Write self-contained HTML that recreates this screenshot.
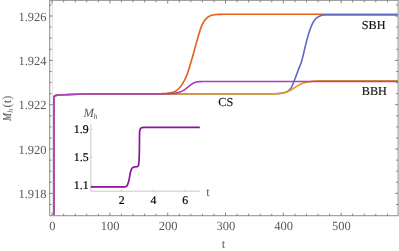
<!DOCTYPE html>
<html><head><meta charset="utf-8"><title>plot</title>
<style>
html,body{margin:0;padding:0;background:#fff;}
svg{display:block;font-family:"Liberation Serif",serif;text-rendering:geometricPrecision;will-change:transform;}
</style></head><body>
<svg width="399" height="251" viewBox="0 0 399 251">
<path d="M52.4,0.5 V215.6" stroke="#dcdcdc" stroke-width="0.8" fill="none"/>
<g fill="none" stroke-linejoin="round" stroke-linecap="butt">
<path d="M54.00,215.60 L54.00,96.90 L54.30,96.20 L55.20,95.60 L58.00,95.00 L64.00,94.70 L70.00,94.50 L78.00,94.25 L85.00,94.05 L95.00,93.92 L110.00,93.85 L160.00,93.85 L160.00,93.75 L160.50,93.74 L161.00,93.72 L161.50,93.71 L162.00,93.69 L162.50,93.68 L163.00,93.66 L163.50,93.63 L164.00,93.61 L164.50,93.58 L165.00,93.55 L165.50,93.52 L166.00,93.48 L166.50,93.44 L167.00,93.39 L167.50,93.34 L168.00,93.28 L168.50,93.21 L169.00,93.14 L169.50,93.06 L170.00,92.97 L170.50,92.87 L171.00,92.75 L171.50,92.63 L172.00,92.49 L172.50,92.33 L173.00,92.16 L173.50,91.97 L174.00,91.76 L174.50,91.53 L175.00,91.28 L175.50,91.01 L176.00,90.71 L176.50,90.38 L177.00,90.02 L177.50,89.63 L178.00,89.21 L178.50,88.75 L179.00,88.26 L179.50,87.73 L180.00,87.15 L180.50,86.54 L181.00,85.89 L181.50,85.19 L182.00,84.45 L182.50,83.67 L183.00,82.85 L183.50,82.00 L184.00,81.12 L184.50,80.19 L185.00,79.21 L185.50,78.17 L186.00,77.07 L186.50,75.90 L187.00,74.64 L187.50,73.28 L188.00,71.82 L188.50,70.28 L189.00,68.66 L189.50,66.99 L190.00,65.31 L190.50,63.64 L191.00,61.98 L191.50,60.33 L192.00,58.66 L192.50,56.96 L193.00,55.21 L193.50,53.40 L194.00,51.57 L194.50,49.75 L195.00,47.94 L195.50,46.13 L196.00,44.32 L196.50,42.53 L197.00,40.76 L197.50,39.00 L198.00,37.27 L198.50,35.57 L199.00,33.90 L199.50,32.19 L200.00,30.51 L200.50,28.98 L201.00,27.60 L201.50,26.34 L202.00,25.18 L202.50,24.12 L203.00,23.14 L203.50,22.23 L204.00,21.41 L204.50,20.67 L205.00,19.99 L205.50,19.38 L206.00,18.82 L206.50,18.31 L207.00,17.84 L207.50,17.42 L208.00,17.04 L208.50,16.70 L209.00,16.39 L209.50,16.12 L210.00,15.88 L210.50,15.67 L211.00,15.48 L211.50,15.32 L212.00,15.17 L212.50,15.05 L213.00,14.94 L213.50,14.85 L214.00,14.77 L214.50,14.71 L215.00,14.65 L215.50,14.59 L216.00,14.55 L216.50,14.51 L217.00,14.48 L217.50,14.45 L218.00,14.42 L218.50,14.40 L219.00,14.38 L219.50,14.36 L220.00,14.35 L220.50,14.33 L221.00,14.32 L221.50,14.31 L222.00,14.31 L222.50,14.30 L223.00,14.29 L223.50,14.29 L224.00,14.28 L224.50,14.28 L225.00,14.27 L225.50,14.27 L226.00,14.27 L226.50,14.27 L227.00,14.26 L227.50,14.26 L228.00,14.26 L228.50,14.26 L229.00,14.26 L229.50,14.26 L230.00,14.26 L230.50,14.26 L231.00,14.25 L231.50,14.25 L232.00,14.25 L232.50,14.25 L233.00,14.25 L233.50,14.25 L234.00,14.25 L234.50,14.25 L235.00,14.25 L235.50,14.25 L236.00,14.25 L236.50,14.25 L237.00,14.25 L237.50,14.25 L238.00,14.25 L238.50,14.25 L239.00,14.25 L239.50,14.25 L240.00,14.25 L240.50,14.25 L241.00,14.25 L241.50,14.25 L242.00,14.25 L242.50,14.25 L243.00,14.25 L243.50,14.25 L244.00,14.25 L244.50,14.25 L245.00,14.25 L245.50,14.25 L246.00,14.25 L246.50,14.25 L247.00,14.25 L247.50,14.25 L248.00,14.25 L248.50,14.25 L249.00,14.25 L249.50,14.25 L250.00,14.25 L250.50,14.25 L251.00,14.25 L251.50,14.25 L252.00,14.25 L252.50,14.25 L253.00,14.25 L253.50,14.25 L254.00,14.25 L254.50,14.25 L255.00,14.25 L255.50,14.25 L256.00,14.25 L256.50,14.25 L257.00,14.25 L257.50,14.25 L258.00,14.25 L258.50,14.25 L259.00,14.25 L259.50,14.25 L260.00,14.25 L260.50,14.25 L261.00,14.25 L261.50,14.25 L262.00,14.25 L262.50,14.25 L263.00,14.25 L263.50,14.25 L264.00,14.25 L264.50,14.25 L265.00,14.25 L265.50,14.25 L266.00,14.25 L266.50,14.25 L267.00,14.25 L267.50,14.25 L268.00,14.25 L268.50,14.25 L269.00,14.25 L269.50,14.25 L270.00,14.25 L270.50,14.25 L271.00,14.25 L271.50,14.25 L272.00,14.25 L272.50,14.25 L273.00,14.25 L273.50,14.25 L274.00,14.25 L274.50,14.25 L275.00,14.25 L275.50,14.25 L276.00,14.25 L276.50,14.25 L277.00,14.25 L277.50,14.25 L278.00,14.25 L278.50,14.25 L279.00,14.25 L279.50,14.25 L280.00,14.25 L280.50,14.25 L281.00,14.25 L281.50,14.25 L282.00,14.25 L282.50,14.25 L283.00,14.25 L283.50,14.25 L284.00,14.25 L284.50,14.25 L285.00,14.25 L285.50,14.25 L286.00,14.25 L286.50,14.25 L287.00,14.25 L287.50,14.25 L288.00,14.25 L288.50,14.25 L289.00,14.25 L289.50,14.25 L290.00,14.25 L290.50,14.25 L291.00,14.25 L291.50,14.25 L292.00,14.25 L292.50,14.25 L293.00,14.25 L293.50,14.25 L294.00,14.25 L294.50,14.25 L295.00,14.25 L295.50,14.25 L296.00,14.25 L296.50,14.25 L297.00,14.25 L297.50,14.25 L298.00,14.25 L298.50,14.25 L299.00,14.25 L299.50,14.25 L300.00,14.25 L300.50,14.25 L301.00,14.25 L301.50,14.25 L302.00,14.25 L302.50,14.25 L303.00,14.25 L303.50,14.25 L304.00,14.25 L304.50,14.25 L305.00,14.25 L305.50,14.25 L306.00,14.25 L306.50,14.25 L307.00,14.25 L307.50,14.25 L308.00,14.25 L308.50,14.25 L309.00,14.25 L309.50,14.25 L310.00,14.25 L310.50,14.25 L311.00,14.25 L311.50,14.25 L312.00,14.25 L312.50,14.25 L313.00,14.25 L313.50,14.25 L314.00,14.25 L314.50,14.25 L315.00,14.25 L315.50,14.25 L316.00,14.25 L316.50,14.25 L317.00,14.25 L317.50,14.25 L318.00,14.25 L318.50,14.25 L319.00,14.25 L319.50,14.25 L320.00,14.25 L320.50,14.25 L321.00,14.25 L321.50,14.25 L322.00,14.25 L322.50,14.25 L323.00,14.25 L323.50,14.25 L324.00,14.25 L324.50,14.25 L325.00,14.25 L325.50,14.25 L326.00,14.25 L326.50,14.25 L327.00,14.25 L327.50,14.25 L328.00,14.25 L328.50,14.25 L329.00,14.25 L329.50,14.25 L330.00,14.25 L330.50,14.25 L331.00,14.25 L331.50,14.25 L332.00,14.25 L332.50,14.25 L333.00,14.25 L333.50,14.25 L334.00,14.25 L334.50,14.25 L335.00,14.25 L335.50,14.25 L336.00,14.25 L336.50,14.25 L337.00,14.25 L337.50,14.25 L338.00,14.25 L338.50,14.25 L339.00,14.25 L339.50,14.25 L340.00,14.25 L340.50,14.25 L341.00,14.25 L341.50,14.25 L342.00,14.25 L342.50,14.25 L343.00,14.25 L343.50,14.25 L344.00,14.25 L344.50,14.25 L345.00,14.25 L345.50,14.25 L346.00,14.25 L346.50,14.25 L347.00,14.25 L347.50,14.25 L348.00,14.25 L348.50,14.25 L349.00,14.25 L349.50,14.25 L350.00,14.25 L350.50,14.25 L351.00,14.25 L351.50,14.25 L352.00,14.25 L352.50,14.25 L353.00,14.25 L353.50,14.25 L354.00,14.25 L354.50,14.25 L355.00,14.25 L355.50,14.25 L356.00,14.25 L356.50,14.25 L357.00,14.25 L357.50,14.25 L358.00,14.25 L358.50,14.25 L359.00,14.25 L359.50,14.25 L360.00,14.25 L360.50,14.25 L361.00,14.25 L361.50,14.25 L362.00,14.25 L362.50,14.25 L363.00,14.25 L363.50,14.25 L364.00,14.25 L364.50,14.25 L365.00,14.25 L365.50,14.25 L366.00,14.25 L366.50,14.25 L367.00,14.25 L367.50,14.25 L368.00,14.25 L368.50,14.25 L369.00,14.25 L369.50,14.25 L370.00,14.25 L370.50,14.25 L371.00,14.25 L371.50,14.25 L372.00,14.25 L372.50,14.25 L373.00,14.25 L373.50,14.25 L374.00,14.25 L374.50,14.25 L375.00,14.25 L375.50,14.25 L376.00,14.25 L376.50,14.25 L377.00,14.25 L377.50,14.25 L378.00,14.25 L378.50,14.25 L379.00,14.25 L379.50,14.25 L380.00,14.25 L380.50,14.25 L381.00,14.25 L381.50,14.25 L382.00,14.25 L382.50,14.25 L383.00,14.25 L383.50,14.25 L384.00,14.25 L384.50,14.25 L385.00,14.25 L385.50,14.25 L386.00,14.25 L386.50,14.25 L387.00,14.25 L387.50,14.25 L388.00,14.25 L388.50,14.25 L389.00,14.25 L389.50,14.25 L390.00,14.25 L390.50,14.25 L391.00,14.25 L391.50,14.25 L392.00,14.25 L392.50,14.25 L393.00,14.25 L393.50,14.25 L394.00,14.25 L394.50,14.25 L395.00,14.25 L395.50,14.25 L396.00,14.25 L396.50,14.25 L397.00,14.25 L397.50,14.25 L398.00,14.25" stroke="#e8601c" stroke-width="1.65"/>
<path d="M54.00,215.60 L54.00,96.90 L54.30,96.20 L55.20,95.60 L58.00,95.00 L64.00,94.70 L70.00,94.50 L78.00,94.25 L85.00,94.05 L95.00,93.92 L110.00,93.85 L160.00,93.85 L160.00,93.90 L160.50,93.90 L161.00,93.90 L161.50,93.90 L162.00,93.90 L162.50,93.90 L163.00,93.90 L163.50,93.90 L164.00,93.90 L164.50,93.90 L165.00,93.90 L165.50,93.90 L166.00,93.90 L166.50,93.90 L167.00,93.90 L167.50,93.90 L168.00,93.90 L168.50,93.90 L169.00,93.90 L169.50,93.90 L170.00,93.90 L170.50,93.90 L171.00,93.90 L171.50,93.90 L172.00,93.90 L172.50,93.90 L173.00,93.90 L173.50,93.90 L174.00,93.90 L174.50,93.90 L175.00,93.90 L175.50,93.90 L176.00,93.90 L176.50,93.90 L177.00,93.90 L177.50,93.90 L178.00,93.90 L178.50,93.90 L179.00,93.90 L179.50,93.90 L180.00,93.90 L180.50,93.90 L181.00,93.90 L181.50,93.90 L182.00,93.90 L182.50,93.90 L183.00,93.90 L183.50,93.90 L184.00,93.90 L184.50,93.90 L185.00,93.90 L185.50,93.90 L186.00,93.90 L186.50,93.90 L187.00,93.90 L187.50,93.90 L188.00,93.90 L188.50,93.90 L189.00,93.90 L189.50,93.90 L190.00,93.90 L190.50,93.90 L191.00,93.90 L191.50,93.90 L192.00,93.90 L192.50,93.90 L193.00,93.90 L193.50,93.90 L194.00,93.90 L194.50,93.90 L195.00,93.90 L195.50,93.90 L196.00,93.90 L196.50,93.90 L197.00,93.90 L197.50,93.90 L198.00,93.90 L198.50,93.90 L199.00,93.90 L199.50,93.90 L200.00,93.90 L200.50,93.90 L201.00,93.90 L201.50,93.90 L202.00,93.90 L202.50,93.90 L203.00,93.90 L203.50,93.90 L204.00,93.90 L204.50,93.90 L205.00,93.90 L205.50,93.90 L206.00,93.90 L206.50,93.90 L207.00,93.90 L207.50,93.90 L208.00,93.90 L208.50,93.90 L209.00,93.90 L209.50,93.90 L210.00,93.90 L210.50,93.90 L211.00,93.90 L211.50,93.90 L212.00,93.90 L212.50,93.90 L213.00,93.90 L213.50,93.90 L214.00,93.90 L214.50,93.90 L215.00,93.90 L215.50,93.90 L216.00,93.90 L216.50,93.90 L217.00,93.90 L217.50,93.90 L218.00,93.90 L218.50,93.90 L219.00,93.90 L219.50,93.90 L220.00,93.90 L220.50,93.90 L221.00,93.90 L221.50,93.90 L222.00,93.90 L222.50,93.90 L223.00,93.90 L223.50,93.90 L224.00,93.90 L224.50,93.90 L225.00,93.90 L225.50,93.90 L226.00,93.90 L226.50,93.90 L227.00,93.90 L227.50,93.90 L228.00,93.90 L228.50,93.90 L229.00,93.90 L229.50,93.90 L230.00,93.90 L230.50,93.90 L231.00,93.90 L231.50,93.90 L232.00,93.90 L232.50,93.90 L233.00,93.90 L233.50,93.90 L234.00,93.90 L234.50,93.90 L235.00,93.90 L235.50,93.90 L236.00,93.90 L236.50,93.90 L237.00,93.90 L237.50,93.90 L238.00,93.90 L238.50,93.90 L239.00,93.90 L239.50,93.90 L240.00,93.90 L240.50,93.90 L241.00,93.90 L241.50,93.90 L242.00,93.90 L242.50,93.90 L243.00,93.90 L243.50,93.90 L244.00,93.90 L244.50,93.90 L245.00,93.90 L245.50,93.90 L246.00,93.90 L246.50,93.90 L247.00,93.90 L247.50,93.90 L248.00,93.90 L248.50,93.90 L249.00,93.90 L249.50,93.90 L250.00,93.90 L250.50,93.90 L251.00,93.90 L251.50,93.90 L252.00,93.90 L252.50,93.90 L253.00,93.90 L253.50,93.90 L254.00,93.90 L254.50,93.90 L255.00,93.90 L255.50,93.90 L256.00,93.90 L256.50,93.90 L257.00,93.90 L257.50,93.90 L258.00,93.90 L258.50,93.90 L259.00,93.89 L259.50,93.89 L260.00,93.89 L260.50,93.89 L261.00,93.89 L261.50,93.89 L262.00,93.89 L262.50,93.89 L263.00,93.89 L263.50,93.89 L264.00,93.88 L264.50,93.88 L265.00,93.88 L265.50,93.88 L266.00,93.88 L266.50,93.87 L267.00,93.87 L267.50,93.87 L268.00,93.86 L268.50,93.86 L269.00,93.85 L269.50,93.85 L270.00,93.84 L270.50,93.83 L271.00,93.83 L271.50,93.82 L272.00,93.81 L272.50,93.80 L273.00,93.78 L273.50,93.77 L274.00,93.76 L274.50,93.74 L275.00,93.72 L275.50,93.70 L276.00,93.67 L276.50,93.65 L277.00,93.62 L277.50,93.58 L278.00,93.55 L278.50,93.50 L279.00,93.46 L279.50,93.40 L280.00,93.35 L280.50,93.28 L281.00,93.21 L281.50,93.13 L282.00,93.05 L282.50,92.97 L283.00,92.88 L283.50,92.77 L284.00,92.66 L284.50,92.52 L285.00,92.37 L285.50,92.20 L286.00,92.00 L286.50,91.78 L287.00,91.53 L287.50,91.24 L288.00,90.92 L288.50,90.55 L289.00,90.14 L289.50,89.67 L290.00,89.14 L290.50,88.54 L291.00,87.87 L291.50,87.10 L292.00,86.14 L292.50,85.02 L293.00,83.77 L293.50,82.48 L294.00,81.25 L294.50,80.01 L295.00,78.74 L295.50,77.46 L296.00,76.15 L296.50,74.82 L297.00,73.48 L297.50,72.13 L298.00,70.75 L298.50,69.39 L299.00,68.09 L299.50,66.85 L300.00,65.61 L300.50,64.33 L301.00,62.96 L301.50,61.44 L302.00,59.74 L302.50,57.90 L303.00,55.94 L303.50,53.88 L304.00,51.76 L304.50,49.61 L305.00,47.47 L305.50,45.37 L306.00,43.33 L306.50,41.39 L307.00,39.50 L307.50,37.66 L308.00,35.89 L308.50,34.20 L309.00,32.60 L309.50,31.09 L310.00,29.66 L310.50,28.30 L311.00,27.01 L311.50,25.78 L312.00,24.63 L312.50,23.55 L313.00,22.57 L313.50,21.67 L314.00,20.85 L314.50,20.13 L315.00,19.48 L315.50,18.93 L316.00,18.46 L316.50,18.05 L317.00,17.68 L317.50,17.35 L318.00,17.04 L318.50,16.76 L319.00,16.49 L319.50,16.24 L320.00,16.01 L320.50,15.78 L321.00,15.57 L321.50,15.40 L322.00,15.26 L322.50,15.15 L323.00,15.09 L323.50,15.04 L324.00,15.00 L324.50,14.98 L325.00,14.96 L325.50,14.94 L326.00,14.93 L326.50,14.92 L327.00,14.92 L327.50,14.91 L328.00,14.91 L328.50,14.91 L329.00,14.91 L329.50,14.90 L330.00,14.90 L330.50,14.90 L331.00,14.90 L331.50,14.90 L332.00,14.90 L332.50,14.90 L333.00,14.90 L333.50,14.90 L334.00,14.90 L334.50,14.90 L335.00,14.90 L335.50,14.90 L336.00,14.90 L336.50,14.90 L337.00,14.90 L337.50,14.90 L338.00,14.90 L338.50,14.90 L339.00,14.90 L339.50,14.90 L340.00,14.90 L340.50,14.90 L341.00,14.90 L341.50,14.90 L342.00,14.90 L342.50,14.90 L343.00,14.90 L343.50,14.90 L344.00,14.90 L344.50,14.90 L345.00,14.90 L345.50,14.90 L346.00,14.90 L346.50,14.90 L347.00,14.90 L347.50,14.90 L348.00,14.90 L348.50,14.90 L349.00,14.90 L349.50,14.90 L350.00,14.90 L350.50,14.90 L351.00,14.90 L351.50,14.90 L352.00,14.90 L352.50,14.90 L353.00,14.90 L353.50,14.90 L354.00,14.90 L354.50,14.90 L355.00,14.90 L355.50,14.90 L356.00,14.90 L356.50,14.90 L357.00,14.90 L357.50,14.90 L358.00,14.90 L358.50,14.90 L359.00,14.90 L359.50,14.90 L360.00,14.90 L360.50,14.90 L361.00,14.90 L361.50,14.90 L362.00,14.90 L362.50,14.90 L363.00,14.90 L363.50,14.90 L364.00,14.90 L364.50,14.90 L365.00,14.90 L365.50,14.90 L366.00,14.90 L366.50,14.90 L367.00,14.90 L367.50,14.90 L368.00,14.90 L368.50,14.90 L369.00,14.90 L369.50,14.90 L370.00,14.90 L370.50,14.90 L371.00,14.90 L371.50,14.90 L372.00,14.90 L372.50,14.90 L373.00,14.90 L373.50,14.90 L374.00,14.90 L374.50,14.90 L375.00,14.90 L375.50,14.90 L376.00,14.90 L376.50,14.90 L377.00,14.90 L377.50,14.90 L378.00,14.90 L378.50,14.90 L379.00,14.90 L379.50,14.90 L380.00,14.90 L380.50,14.90 L381.00,14.90 L381.50,14.90 L382.00,14.90 L382.50,14.90 L383.00,14.90 L383.50,14.90 L384.00,14.90 L384.50,14.90 L385.00,14.90 L385.50,14.90 L386.00,14.90 L386.50,14.90 L387.00,14.90 L387.50,14.90 L388.00,14.90 L388.50,14.90 L389.00,14.90 L389.50,14.90 L390.00,14.90 L390.50,14.90 L391.00,14.90 L391.50,14.90 L392.00,14.90 L392.50,14.90 L393.00,14.90 L393.50,14.90 L394.00,14.90 L394.50,14.90 L395.00,14.90 L395.50,14.90 L396.00,14.90 L396.50,14.90 L397.00,14.90 L397.50,14.90 L398.00,14.90" stroke="#5f6cc6" stroke-width="1.65"/>
<path d="M54.00,215.60 L54.00,96.90 L54.30,96.20 L55.20,95.60 L58.00,95.00 L64.00,94.70 L70.00,94.50 L78.00,94.25 L85.00,94.05 L95.00,93.92 L110.00,93.85 L160.00,93.85 L160.00,93.90 L160.50,93.90 L161.00,93.90 L161.50,93.90 L162.00,93.90 L162.50,93.90 L163.00,93.90 L163.50,93.90 L164.00,93.90 L164.50,93.90 L165.00,93.90 L165.50,93.90 L166.00,93.90 L166.50,93.90 L167.00,93.90 L167.50,93.90 L168.00,93.90 L168.50,93.90 L169.00,93.90 L169.50,93.90 L170.00,93.90 L170.50,93.90 L171.00,93.90 L171.50,93.90 L172.00,93.90 L172.50,93.90 L173.00,93.90 L173.50,93.90 L174.00,93.90 L174.50,93.90 L175.00,93.90 L175.50,93.90 L176.00,93.90 L176.50,93.90 L177.00,93.90 L177.50,93.90 L178.00,93.90 L178.50,93.90 L179.00,93.90 L179.50,93.90 L180.00,93.90 L180.50,93.90 L181.00,93.90 L181.50,93.90 L182.00,93.90 L182.50,93.90 L183.00,93.90 L183.50,93.90 L184.00,93.90 L184.50,93.90 L185.00,93.90 L185.50,93.90 L186.00,93.90 L186.50,93.90 L187.00,93.90 L187.50,93.90 L188.00,93.90 L188.50,93.90 L189.00,93.90 L189.50,93.90 L190.00,93.90 L190.50,93.90 L191.00,93.90 L191.50,93.90 L192.00,93.90 L192.50,93.90 L193.00,93.90 L193.50,93.90 L194.00,93.90 L194.50,93.90 L195.00,93.90 L195.50,93.90 L196.00,93.90 L196.50,93.90 L197.00,93.90 L197.50,93.90 L198.00,93.90 L198.50,93.90 L199.00,93.90 L199.50,93.90 L200.00,93.90 L200.50,93.90 L201.00,93.90 L201.50,93.90 L202.00,93.90 L202.50,93.90 L203.00,93.90 L203.50,93.90 L204.00,93.90 L204.50,93.90 L205.00,93.90 L205.50,93.90 L206.00,93.90 L206.50,93.90 L207.00,93.90 L207.50,93.90 L208.00,93.90 L208.50,93.90 L209.00,93.90 L209.50,93.90 L210.00,93.90 L210.50,93.90 L211.00,93.90 L211.50,93.90 L212.00,93.90 L212.50,93.90 L213.00,93.90 L213.50,93.90 L214.00,93.90 L214.50,93.90 L215.00,93.90 L215.50,93.90 L216.00,93.90 L216.50,93.90 L217.00,93.90 L217.50,93.90 L218.00,93.90 L218.50,93.90 L219.00,93.90 L219.50,93.90 L220.00,93.90 L220.50,93.90 L221.00,93.90 L221.50,93.90 L222.00,93.90 L222.50,93.90 L223.00,93.90 L223.50,93.90 L224.00,93.90 L224.50,93.90 L225.00,93.90 L225.50,93.90 L226.00,93.90 L226.50,93.90 L227.00,93.90 L227.50,93.90 L228.00,93.90 L228.50,93.90 L229.00,93.90 L229.50,93.90 L230.00,93.90 L230.50,93.90 L231.00,93.90 L231.50,93.90 L232.00,93.90 L232.50,93.90 L233.00,93.90 L233.50,93.90 L234.00,93.90 L234.50,93.90 L235.00,93.90 L235.50,93.90 L236.00,93.90 L236.50,93.90 L237.00,93.90 L237.50,93.90 L238.00,93.90 L238.50,93.90 L239.00,93.90 L239.50,93.90 L240.00,93.90 L240.50,93.90 L241.00,93.90 L241.50,93.90 L242.00,93.90 L242.50,93.90 L243.00,93.90 L243.50,93.90 L244.00,93.90 L244.50,93.90 L245.00,93.90 L245.50,93.90 L246.00,93.90 L246.50,93.90 L247.00,93.90 L247.50,93.90 L248.00,93.90 L248.50,93.90 L249.00,93.90 L249.50,93.90 L250.00,93.90 L250.50,93.90 L251.00,93.90 L251.50,93.90 L252.00,93.90 L252.50,93.90 L253.00,93.90 L253.50,93.90 L254.00,93.90 L254.50,93.90 L255.00,93.90 L255.50,93.90 L256.00,93.90 L256.50,93.90 L257.00,93.90 L257.50,93.90 L258.00,93.90 L258.50,93.90 L259.00,93.90 L259.50,93.90 L260.00,93.90 L260.50,93.90 L261.00,93.90 L261.50,93.90 L262.00,93.90 L262.50,93.90 L263.00,93.90 L263.50,93.90 L264.00,93.90 L264.50,93.89 L265.00,93.89 L265.50,93.89 L266.00,93.89 L266.50,93.89 L267.00,93.89 L267.50,93.89 L268.00,93.89 L268.50,93.88 L269.00,93.88 L269.50,93.88 L270.00,93.88 L270.50,93.87 L271.00,93.87 L271.50,93.86 L272.00,93.86 L272.50,93.85 L273.00,93.85 L273.50,93.84 L274.00,93.83 L274.50,93.82 L275.00,93.81 L275.50,93.79 L276.00,93.78 L276.50,93.76 L277.00,93.74 L277.50,93.71 L278.00,93.68 L278.50,93.65 L279.00,93.61 L279.50,93.57 L280.00,93.52 L280.50,93.47 L281.00,93.41 L281.50,93.34 L282.00,93.27 L282.50,93.18 L283.00,93.09 L283.50,92.99 L284.00,92.88 L284.50,92.75 L285.00,92.61 L285.50,92.47 L286.00,92.31 L286.50,92.13 L287.00,91.95 L287.50,91.75 L288.00,91.54 L288.50,91.32 L289.00,91.09 L289.50,90.84 L290.00,90.57 L290.50,90.29 L291.00,90.00 L291.50,89.69 L292.00,89.38 L292.50,89.05 L293.00,88.72 L293.50,88.39 L294.00,88.05 L294.50,87.72 L295.00,87.39 L295.50,87.07 L296.00,86.75 L296.50,86.45 L297.00,86.15 L297.50,85.85 L298.00,85.56 L298.50,85.28 L299.00,85.01 L299.50,84.75 L300.00,84.49 L300.50,84.24 L301.00,84.00 L301.50,83.78 L302.00,83.57 L302.50,83.37 L303.00,83.18 L303.50,83.00 L304.00,82.84 L304.50,82.69 L305.00,82.56 L305.50,82.44 L306.00,82.33 L306.50,82.22 L307.00,82.13 L307.50,82.03 L308.00,81.95 L308.50,81.86 L309.00,81.77 L309.50,81.69 L310.00,81.60 L310.50,81.52 L311.00,81.45 L311.50,81.38 L312.00,81.31 L312.50,81.25 L313.00,81.19 L313.50,81.14 L314.00,81.09 L314.50,81.05 L315.00,81.01 L315.50,80.98 L316.00,80.95 L316.50,80.92 L317.00,80.90 L317.50,80.89 L318.00,80.87 L318.50,80.86 L319.00,80.84 L319.50,80.83 L320.00,80.82 L320.50,80.81 L321.00,80.81 L321.50,80.80 L322.00,80.79 L322.50,80.79 L323.00,80.78 L323.50,80.78 L324.00,80.78 L324.50,80.77 L325.00,80.77 L325.50,80.77 L326.00,80.77 L326.50,80.76 L327.00,80.76 L327.50,80.76 L328.00,80.76 L328.50,80.76 L329.00,80.76 L329.50,80.76 L330.00,80.76 L330.50,80.76 L331.00,80.75 L331.50,80.75 L332.00,80.75 L332.50,80.75 L333.00,80.75 L333.50,80.75 L334.00,80.75 L334.50,80.75 L335.00,80.75 L335.50,80.75 L336.00,80.75 L336.50,80.75 L337.00,80.75 L337.50,80.75 L338.00,80.75 L338.50,80.75 L339.00,80.75 L339.50,80.75 L340.00,80.75 L340.50,80.75 L341.00,80.75 L341.50,80.75 L342.00,80.75 L342.50,80.75 L343.00,80.75 L343.50,80.75 L344.00,80.75 L344.50,80.75 L345.00,80.75 L345.50,80.75 L346.00,80.75 L346.50,80.75 L347.00,80.75 L347.50,80.75 L348.00,80.75 L348.50,80.75 L349.00,80.75 L349.50,80.75 L350.00,80.75 L350.50,80.75 L351.00,80.75 L351.50,80.75 L352.00,80.75 L352.50,80.75 L353.00,80.75 L353.50,80.75 L354.00,80.75 L354.50,80.75 L355.00,80.75 L355.50,80.75 L356.00,80.75 L356.50,80.75 L357.00,80.75 L357.50,80.75 L358.00,80.75 L358.50,80.75 L359.00,80.75 L359.50,80.75 L360.00,80.75 L360.50,80.75 L361.00,80.75 L361.50,80.75 L362.00,80.75 L362.50,80.75 L363.00,80.75 L363.50,80.75 L364.00,80.75 L364.50,80.75 L365.00,80.75 L365.50,80.75 L366.00,80.75 L366.50,80.75 L367.00,80.75 L367.50,80.75 L368.00,80.75 L368.50,80.75 L369.00,80.75 L369.50,80.75 L370.00,80.75 L370.50,80.75 L371.00,80.75 L371.50,80.75 L372.00,80.75 L372.50,80.75 L373.00,80.75 L373.50,80.75 L374.00,80.75 L374.50,80.75 L375.00,80.75 L375.50,80.75 L376.00,80.75 L376.50,80.75 L377.00,80.75 L377.50,80.75 L378.00,80.75 L378.50,80.75 L379.00,80.75 L379.50,80.75 L380.00,80.75 L380.50,80.75 L381.00,80.75 L381.50,80.75 L382.00,80.75 L382.50,80.75 L383.00,80.75 L383.50,80.75 L384.00,80.75 L384.50,80.75 L385.00,80.75 L385.50,80.75 L386.00,80.75 L386.50,80.75 L387.00,80.75 L387.50,80.75 L388.00,80.75 L388.50,80.75 L389.00,80.75 L389.50,80.75 L390.00,80.75 L390.50,80.75 L391.00,80.75 L391.50,80.75 L392.00,80.75 L392.50,80.75 L393.00,80.75 L393.50,80.75 L394.00,80.75 L394.50,80.75 L395.00,80.75 L395.50,80.75 L396.00,80.75 L396.50,80.75 L397.00,80.75 L397.50,80.75 L398.00,80.75" stroke="#e59a1c" stroke-width="1.65"/>
<path d="M54.00,215.60 L54.00,96.90 L54.30,96.20 L55.20,95.60 L58.00,95.00 L64.00,94.70 L70.00,94.50 L78.00,94.25 L85.00,94.05 L95.00,93.92 L110.00,93.85 L160.00,93.85 L160.00,93.82 L160.50,93.82 L161.00,93.81 L161.50,93.81 L162.00,93.81 L162.50,93.80 L163.00,93.80 L163.50,93.79 L164.00,93.78 L164.50,93.77 L165.00,93.77 L165.50,93.76 L166.00,93.75 L166.50,93.73 L167.00,93.72 L167.50,93.71 L168.00,93.69 L168.50,93.67 L169.00,93.65 L169.50,93.63 L170.00,93.60 L170.50,93.58 L171.00,93.55 L171.50,93.52 L172.00,93.48 L172.50,93.44 L173.00,93.40 L173.50,93.35 L174.00,93.30 L174.50,93.24 L175.00,93.17 L175.50,93.10 L176.00,93.02 L176.50,92.93 L177.00,92.83 L177.50,92.72 L178.00,92.60 L178.50,92.47 L179.00,92.32 L179.50,92.16 L180.00,91.99 L180.50,91.80 L181.00,91.60 L181.50,91.38 L182.00,91.14 L182.50,90.89 L183.00,90.62 L183.50,90.33 L184.00,90.03 L184.50,89.71 L185.00,89.37 L185.50,89.01 L186.00,88.63 L186.50,88.24 L187.00,87.84 L187.50,87.43 L188.00,87.01 L188.50,86.60 L189.00,86.19 L189.50,85.78 L190.00,85.39 L190.50,85.00 L191.00,84.63 L191.50,84.28 L192.00,83.95 L192.50,83.64 L193.00,83.35 L193.50,83.09 L194.00,82.84 L194.50,82.63 L195.00,82.43 L195.50,82.27 L196.00,82.12 L196.50,82.00 L197.00,81.91 L197.50,81.83 L198.00,81.77 L198.50,81.72 L199.00,81.68 L199.50,81.65 L200.00,81.62 L200.50,81.60 L201.00,81.58 L201.50,81.56 L202.00,81.55 L202.50,81.54 L203.00,81.53 L203.50,81.53 L204.00,81.52 L204.50,81.52 L205.00,81.52 L205.50,81.51 L206.00,81.51 L206.50,81.51 L207.00,81.51 L207.50,81.51 L208.00,81.50 L208.50,81.50 L209.00,81.50 L209.50,81.50 L210.00,81.50 L210.50,81.50 L211.00,81.50 L211.50,81.50 L212.00,81.50 L212.50,81.50 L213.00,81.50 L213.50,81.50 L214.00,81.50 L214.50,81.50 L215.00,81.50 L215.50,81.50 L216.00,81.50 L216.50,81.50 L217.00,81.50 L217.50,81.50 L218.00,81.50 L218.50,81.50 L219.00,81.50 L219.50,81.50 L220.00,81.50 L220.50,81.50 L221.00,81.50 L221.50,81.50 L222.00,81.50 L222.50,81.50 L223.00,81.50 L223.50,81.50 L224.00,81.50 L224.50,81.50 L225.00,81.50 L225.50,81.50 L226.00,81.50 L226.50,81.50 L227.00,81.50 L227.50,81.50 L228.00,81.50 L228.50,81.50 L229.00,81.50 L229.50,81.50 L230.00,81.50 L230.50,81.50 L231.00,81.50 L231.50,81.50 L232.00,81.50 L232.50,81.50 L233.00,81.50 L233.50,81.50 L234.00,81.50 L234.50,81.50 L235.00,81.50 L235.50,81.50 L236.00,81.50 L236.50,81.50 L237.00,81.50 L237.50,81.50 L238.00,81.50 L238.50,81.50 L239.00,81.50 L239.50,81.50 L240.00,81.50 L240.50,81.50 L241.00,81.50 L241.50,81.50 L242.00,81.50 L242.50,81.50 L243.00,81.50 L243.50,81.50 L244.00,81.50 L244.50,81.50 L245.00,81.50 L245.50,81.50 L246.00,81.50 L246.50,81.50 L247.00,81.50 L247.50,81.50 L248.00,81.50 L248.50,81.50 L249.00,81.50 L249.50,81.50 L250.00,81.50 L250.50,81.50 L251.00,81.50 L251.50,81.50 L252.00,81.50 L252.50,81.50 L253.00,81.50 L253.50,81.50 L254.00,81.50 L254.50,81.50 L255.00,81.50 L255.50,81.50 L256.00,81.50 L256.50,81.50 L257.00,81.50 L257.50,81.50 L258.00,81.50 L258.50,81.50 L259.00,81.50 L259.50,81.50 L260.00,81.50 L260.50,81.50 L261.00,81.50 L261.50,81.50 L262.00,81.50 L262.50,81.50 L263.00,81.50 L263.50,81.50 L264.00,81.50 L264.50,81.50 L265.00,81.50 L265.50,81.50 L266.00,81.50 L266.50,81.50 L267.00,81.50 L267.50,81.50 L268.00,81.50 L268.50,81.50 L269.00,81.50 L269.50,81.50 L270.00,81.50 L270.50,81.50 L271.00,81.50 L271.50,81.50 L272.00,81.50 L272.50,81.50 L273.00,81.50 L273.50,81.50 L274.00,81.50 L274.50,81.50 L275.00,81.50 L275.50,81.50 L276.00,81.50 L276.50,81.50 L277.00,81.50 L277.50,81.50 L278.00,81.50 L278.50,81.50 L279.00,81.50 L279.50,81.50 L280.00,81.50 L280.50,81.50 L281.00,81.50 L281.50,81.50 L282.00,81.50 L282.50,81.50 L283.00,81.50 L283.50,81.50 L284.00,81.50 L284.50,81.50 L285.00,81.50 L285.50,81.50 L286.00,81.50 L286.50,81.50 L287.00,81.50 L287.50,81.50 L288.00,81.50 L288.50,81.50 L289.00,81.50 L289.50,81.50 L290.00,81.50 L290.50,81.50 L291.00,81.50 L291.50,81.50 L292.00,81.50 L292.50,81.50 L293.00,81.50 L293.50,81.50 L294.00,81.50 L294.50,81.50 L295.00,81.50 L295.50,81.50 L296.00,81.50 L296.50,81.50 L297.00,81.50 L297.50,81.50 L298.00,81.50 L298.50,81.50 L299.00,81.50 L299.50,81.50 L300.00,81.50 L300.50,81.50 L301.00,81.50 L301.50,81.50 L302.00,81.50 L302.50,81.50 L303.00,81.50 L303.50,81.50 L304.00,81.50 L304.50,81.50 L305.00,81.50 L305.50,81.50 L306.00,81.50 L306.50,81.50 L307.00,81.50 L307.50,81.50 L308.00,81.50 L308.50,81.50 L309.00,81.50 L309.50,81.50 L310.00,81.50 L310.50,81.50 L311.00,81.50 L311.50,81.50 L312.00,81.50 L312.50,81.50 L313.00,81.50 L313.50,81.50 L314.00,81.50 L314.50,81.50 L315.00,81.50 L315.50,81.50 L316.00,81.50 L316.50,81.50 L317.00,81.50 L317.50,81.50 L318.00,81.50 L318.50,81.50 L319.00,81.50 L319.50,81.50 L320.00,81.50 L320.50,81.50 L321.00,81.50 L321.50,81.50 L322.00,81.50 L322.50,81.50 L323.00,81.50 L323.50,81.50 L324.00,81.50 L324.50,81.50 L325.00,81.50 L325.50,81.50 L326.00,81.50 L326.50,81.50 L327.00,81.50 L327.50,81.50 L328.00,81.50 L328.50,81.50 L329.00,81.50 L329.50,81.50 L330.00,81.50 L330.50,81.50 L331.00,81.50 L331.50,81.50 L332.00,81.50 L332.50,81.50 L333.00,81.50 L333.50,81.50 L334.00,81.50 L334.50,81.50 L335.00,81.50 L335.50,81.50 L336.00,81.50 L336.50,81.50 L337.00,81.50 L337.50,81.50 L338.00,81.50 L338.50,81.50 L339.00,81.50 L339.50,81.50 L340.00,81.50 L340.50,81.50 L341.00,81.50 L341.50,81.50 L342.00,81.50 L342.50,81.50 L343.00,81.50 L343.50,81.50 L344.00,81.50 L344.50,81.50 L345.00,81.50 L345.50,81.50 L346.00,81.50 L346.50,81.50 L347.00,81.50 L347.50,81.50 L348.00,81.50 L348.50,81.50 L349.00,81.50 L349.50,81.50 L350.00,81.50 L350.50,81.50 L351.00,81.50 L351.50,81.50 L352.00,81.50 L352.50,81.50 L353.00,81.50 L353.50,81.50 L354.00,81.50 L354.50,81.50 L355.00,81.50 L355.50,81.50 L356.00,81.50 L356.50,81.50 L357.00,81.50 L357.50,81.50 L358.00,81.50 L358.50,81.50 L359.00,81.50 L359.50,81.50 L360.00,81.50 L360.50,81.50 L361.00,81.50 L361.50,81.50 L362.00,81.50 L362.50,81.50 L363.00,81.50 L363.50,81.50 L364.00,81.50 L364.50,81.50 L365.00,81.50 L365.50,81.50 L366.00,81.50 L366.50,81.50 L367.00,81.50 L367.50,81.50 L368.00,81.50 L368.50,81.50 L369.00,81.50 L369.50,81.50 L370.00,81.50 L370.50,81.50 L371.00,81.50 L371.50,81.50 L372.00,81.50 L372.50,81.50 L373.00,81.50 L373.50,81.50 L374.00,81.50 L374.50,81.50 L375.00,81.50 L375.50,81.50 L376.00,81.50 L376.50,81.50 L377.00,81.50 L377.50,81.50 L378.00,81.50 L378.50,81.50 L379.00,81.50 L379.50,81.50 L380.00,81.50 L380.50,81.50 L381.00,81.50 L381.50,81.50 L382.00,81.50 L382.50,81.50 L383.00,81.50 L383.50,81.50 L384.00,81.50 L384.50,81.50 L385.00,81.50 L385.50,81.50 L386.00,81.50 L386.50,81.50 L387.00,81.50 L387.50,81.50 L388.00,81.50 L388.50,81.50 L389.00,81.50 L389.50,81.50 L390.00,81.50 L390.50,81.50 L391.00,81.50 L391.50,81.50 L392.00,81.50 L392.50,81.50 L393.00,81.50 L393.50,81.50 L394.00,81.50 L394.50,81.50 L395.00,81.50 L395.50,81.50 L396.00,81.50 L396.50,81.50 L397.00,81.50 L397.50,81.50 L398.00,81.50" stroke="#ad3fb8" stroke-width="1.65"/>
</g>
<g fill="none" stroke="#8a8a8a" stroke-width="1">
<path d="M49.7,0.0 V216.1" stroke="#7c7c7c" stroke-width="0.9"/>
<path d="M49.7,0.5 H398.6" stroke="#a0a0a0" stroke-width="1"/>
<path d="M398.1,0.5 V216.1" stroke="#9a9a9a" stroke-width="1.1"/>
<path d="M49.7,215.6 H398.6" stroke="#a4a4a4" stroke-width="1.2"/>
<path d="M52.10,215.6 v-3.0 M52.10,0.5 v3.0 M63.66,215.6 v-1.9 M63.66,0.5 v1.9 M75.22,215.6 v-1.9 M75.22,0.5 v1.9 M86.79,215.6 v-1.9 M86.79,0.5 v1.9 M98.35,215.6 v-1.9 M98.35,0.5 v1.9 M109.91,215.6 v-3.0 M109.91,0.5 v3.0 M121.47,215.6 v-1.9 M121.47,0.5 v1.9 M133.03,215.6 v-1.9 M133.03,0.5 v1.9 M144.60,215.6 v-1.9 M144.60,0.5 v1.9 M156.16,215.6 v-1.9 M156.16,0.5 v1.9 M167.72,215.6 v-3.0 M167.72,0.5 v3.0 M179.28,215.6 v-1.9 M179.28,0.5 v1.9 M190.84,215.6 v-1.9 M190.84,0.5 v1.9 M202.41,215.6 v-1.9 M202.41,0.5 v1.9 M213.97,215.6 v-1.9 M213.97,0.5 v1.9 M225.53,215.6 v-3.0 M225.53,0.5 v3.0 M237.09,215.6 v-1.9 M237.09,0.5 v1.9 M248.65,215.6 v-1.9 M248.65,0.5 v1.9 M260.22,215.6 v-1.9 M260.22,0.5 v1.9 M271.78,215.6 v-1.9 M271.78,0.5 v1.9 M283.34,215.6 v-3.0 M283.34,0.5 v3.0 M294.90,215.6 v-1.9 M294.90,0.5 v1.9 M306.46,215.6 v-1.9 M306.46,0.5 v1.9 M318.03,215.6 v-1.9 M318.03,0.5 v1.9 M329.59,215.6 v-1.9 M329.59,0.5 v1.9 M341.15,215.6 v-3.0 M341.15,0.5 v3.0 M352.71,215.6 v-1.9 M352.71,0.5 v1.9 M364.27,215.6 v-1.9 M364.27,0.5 v1.9 M375.84,215.6 v-1.9 M375.84,0.5 v1.9 M387.40,215.6 v-1.9 M387.40,0.5 v1.9 M49.7,4.95 h1.9 M398.1,4.95 h-1.9 M49.7,16.04 h3.0 M398.1,16.04 h-3.0 M49.7,27.12 h1.9 M398.1,27.12 h-1.9 M49.7,38.21 h1.9 M398.1,38.21 h-1.9 M49.7,49.30 h1.9 M398.1,49.30 h-1.9 M49.7,60.38 h3.0 M398.1,60.38 h-3.0 M49.7,71.47 h1.9 M398.1,71.47 h-1.9 M49.7,82.55 h1.9 M398.1,82.55 h-1.9 M49.7,93.63 h1.9 M398.1,93.63 h-1.9 M49.7,104.72 h3.0 M398.1,104.72 h-3.0 M49.7,115.81 h1.9 M398.1,115.81 h-1.9 M49.7,126.89 h1.9 M398.1,126.89 h-1.9 M49.7,137.97 h1.9 M398.1,137.97 h-1.9 M49.7,149.06 h3.0 M398.1,149.06 h-3.0 M49.7,160.15 h1.9 M398.1,160.15 h-1.9 M49.7,171.23 h1.9 M398.1,171.23 h-1.9 M49.7,182.31 h1.9 M398.1,182.31 h-1.9 M49.7,193.40 h3.0 M398.1,193.40 h-3.0 M49.7,204.49 h1.9 M398.1,204.49 h-1.9" stroke="#6a6a6a" stroke-width="0.85"/>
</g>
<g font-size="12.5px" fill="#5a5a5a">
<text x="46.6" y="20.54" text-anchor="end">1.926</text>
<text x="46.6" y="64.88" text-anchor="end">1.924</text>
<text x="46.6" y="109.22" text-anchor="end">1.922</text>
<text x="46.6" y="153.56" text-anchor="end">1.920</text>
<text x="46.6" y="197.90" text-anchor="end">1.918</text>
<text x="52.40" y="230.2" text-anchor="middle">0</text>
<text x="110.21" y="230.2" text-anchor="middle">100</text>
<text x="168.02" y="230.2" text-anchor="middle">200</text>
<text x="225.83" y="230.2" text-anchor="middle">300</text>
<text x="283.64" y="230.2" text-anchor="middle">400</text>
<text x="341.45" y="230.2" text-anchor="middle">500</text>
</g>
<text x="223.5" y="248.1" font-size="12.5px" fill="#5a5a5a" text-anchor="middle">t</text>
<g transform="translate(10.7,121) rotate(-90)" fill="#666">
<text x="0" y="0" font-size="12px" font-style="italic" transform="scale(0.78,1)" stroke="#666" stroke-width="0.25">M</text>
<text x="8.2" y="1.8" font-size="8px" font-style="italic">h</text>
<text x="13.6" y="0" font-size="12.5px">(t)</text>
</g>
<!-- inset -->
<g fill="none" stroke="#bdbdbd" stroke-width="0.8">
<path d="M90.8,124 V191.2 H200"/>
<path d="M90.8,129.3 h1.6 M90.8,157.2 h1.6 M90.8,185.1 h1.6 M121.5,191.2 v-1.6 M153.2,191.2 v-1.6 M184.8,191.2 v-1.6" stroke-width="0.7"/>
</g>
<path d="M90.80,186.90 L110.00,186.90 L124.00,186.90 L125.40,186.80 L126.40,186.50 L127.60,184.80 L128.70,181.30 L129.60,176.90 L130.40,172.50 L131.30,169.40 L132.50,167.60 L134.30,166.95 L137.30,166.75 L138.30,165.80 L138.90,163.00 L139.20,157.00 L139.40,150.00 L139.50,135.00 L139.70,131.00 L140.20,129.00 L141.00,128.00 L142.20,127.55 L144.00,127.40 L199.80,127.40" fill="none" stroke="#8a149a" stroke-width="1.7" stroke-linejoin="round"/>
<g font-size="11.8px" fill="#000" stroke="#000" stroke-width="0.2">
<text x="88.6" y="133.3" text-anchor="end">1.9</text>
<text x="88.6" y="161.2" text-anchor="end">1.5</text>
<text x="88.6" y="189.1" text-anchor="end">1.1</text>
<text x="121.8" y="204.4" text-anchor="middle">2</text>
<text x="153.5" y="204.4" text-anchor="middle">4</text>
<text x="185.1" y="204.4" text-anchor="middle">6</text>
</g>
<g fill="#5a5a5a" font-size="12.5px">
<text x="83.4" y="116.8" font-style="italic">M</text>
<text x="93.6" y="118.5" font-size="7.8px" font-style="italic">h</text>
<text x="206.3" y="195.6">t</text>
</g>
<g fill="#111" font-size="12.2px" stroke="#111" stroke-width="0.15">
<text x="361.8" y="29.2">SBH</text>
<text x="361.8" y="95.4">BBH</text>
<text x="218.3" y="106.2">CS</text>
</g>
</svg>
</body></html>
